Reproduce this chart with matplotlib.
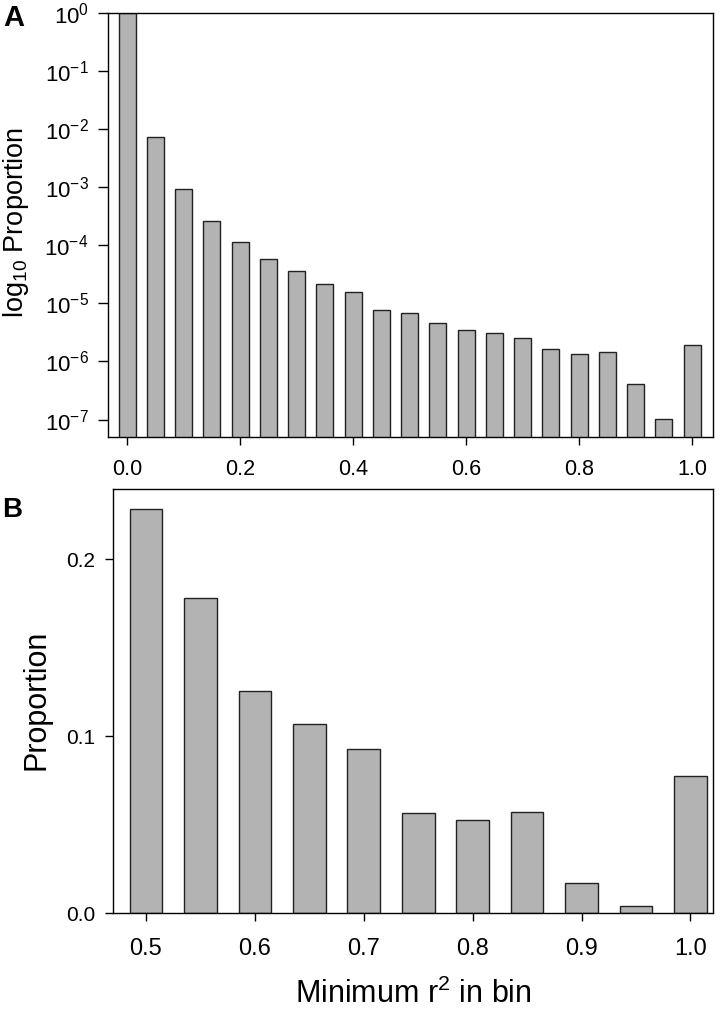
import matplotlib
matplotlib.use("Agg")
import matplotlib.pyplot as plt
from matplotlib.ticker import FixedLocator, FixedFormatter

plt.rcParams["font.family"] = ["Liberation Sans", "DejaVu Sans"]
plt.rcParams["mathtext.fontset"] = "custom"
plt.rcParams["mathtext.rm"] = "Liberation Sans"
plt.rcParams["mathtext.it"] = "Liberation Sans:italic"
plt.rcParams["mathtext.bf"] = "Liberation Sans:bold"

# Panel A: all bins of minimum r^2 (log scale)
bins_a = [0.00, 0.05, 0.10, 0.15, 0.20, 0.25, 0.30, 0.35, 0.40, 0.45, 0.50,
          0.55, 0.60, 0.65, 0.70, 0.75, 0.80, 0.85, 0.90, 0.95, 1.00]
prop_a = [0.99, 7.46e-3, 9.35e-4, 2.63e-4, 1.15e-4, 5.93e-5, 3.58e-5, 2.20e-5,
          1.58e-5, 7.85e-6, 6.97e-6, 4.56e-6, 3.46e-6, 3.15e-6, 2.52e-6,
          1.61e-6, 1.34e-6, 1.47e-6, 4.12e-7, 1.02e-7, 1.96e-6]
yticks_a = [1e0, 1e-1, 1e-2, 1e-3, 1e-4, 1e-5, 1e-6, 1e-7]
ylabels_a = ["10$^{0}$", "10$^{-1}$", "10$^{-2}$", "10$^{-3}$", "10$^{-4}$",
             "10$^{-5}$", "10$^{-6}$", "10$^{-7}$"]
xticks_a = [0.0, 0.2, 0.4, 0.6, 0.8, 1.0]

# Panel B: bins with minimum r^2 >= 0.5
bins_b = [0.50, 0.55, 0.60, 0.65, 0.70, 0.75, 0.80, 0.85, 0.90, 0.95, 1.00]
prop_b = [0.228, 0.178, 0.1256, 0.1071, 0.0928, 0.0568, 0.0525, 0.0572,
          0.0173, 0.0041, 0.0776]
yticks_b = [0.0, 0.1, 0.2]
xticks_b = [0.5, 0.6, 0.7, 0.8, 0.9, 1.0]

bar_kw = dict(width=0.03, color="#b3b3b3", edgecolor="#222222", linewidth=1.0)

fig = plt.figure(figsize=(7.21, 10.11), dpi=100)

# --- A ---
ax1 = fig.add_axes([0.1498, 0.5677, 0.8391, 0.4194])
ax1.set_yscale("log")
ax1.bar(bins_a, prop_a, bottom=1e-9, **bar_kw)
ax1.set_ylim(5.0e-8, 1.0)
ax1.set_xlim(-0.034, 1.037)
ax1.yaxis.set_major_locator(FixedLocator(yticks_a))
ax1.yaxis.set_major_formatter(FixedFormatter(ylabels_a))
ax1.yaxis.set_minor_locator(FixedLocator([]))
ax1.set_xticks(xticks_a)
ax1.set_xticklabels([f"{v:.1f}" for v in xticks_a])
ax1.tick_params(axis="x", labelsize=15.5, length=6, width=1, pad=10, top=False)
ax1.tick_params(axis="y", labelsize=16, length=7, width=1, pad=7, right=False)
for s in ax1.spines.values():
    s.set_linewidth(1.0)
fig.text(16 / 721, 1 - 222 / 1011, "log$_{10}$ Proportion", rotation=90,
         ha="center", va="center", fontsize=19.5)
fig.text(3 / 721, 1 - 26 / 1011, "A", fontsize=21, fontweight="bold",
         ha="left", va="baseline")

# --- B ---
ax2 = fig.add_axes([0.1567, 0.0966, 0.8322, 0.4197])
ax2.bar(bins_b, prop_b, **bar_kw)
ax2.set_ylim(0, 0.2395)
ax2.set_xlim(0.4697, 1.0207)
ax2.set_yticks(yticks_b)
ax2.set_yticklabels([f"{v:.1f}" for v in yticks_b])
ax2.set_xticks(xticks_b)
ax2.set_xticklabels([f"{v:.1f}" for v in xticks_b])
ax2.tick_params(axis="x", labelsize=17, length=6, width=1, pad=12, top=False)
ax2.tick_params(axis="y", labelsize=15, length=6, width=1, pad=7, right=False)
for s in ax2.spines.values():
    s.set_linewidth(1.0)
fig.text(37 / 721, 1 - 700 / 1011, "Proportion", rotation=90,
         ha="center", va="center", fontsize=22)
fig.text(413 / 721, 1 / 1011, "Minimum r$^{2}$ in bin", ha="center",
         va="bottom", fontsize=22)
fig.text(2 / 721, 1 - 517 / 1011, "B", fontsize=20, fontweight="bold",
         ha="left", va="baseline")

fig.savefig("out.png", dpi=100)
